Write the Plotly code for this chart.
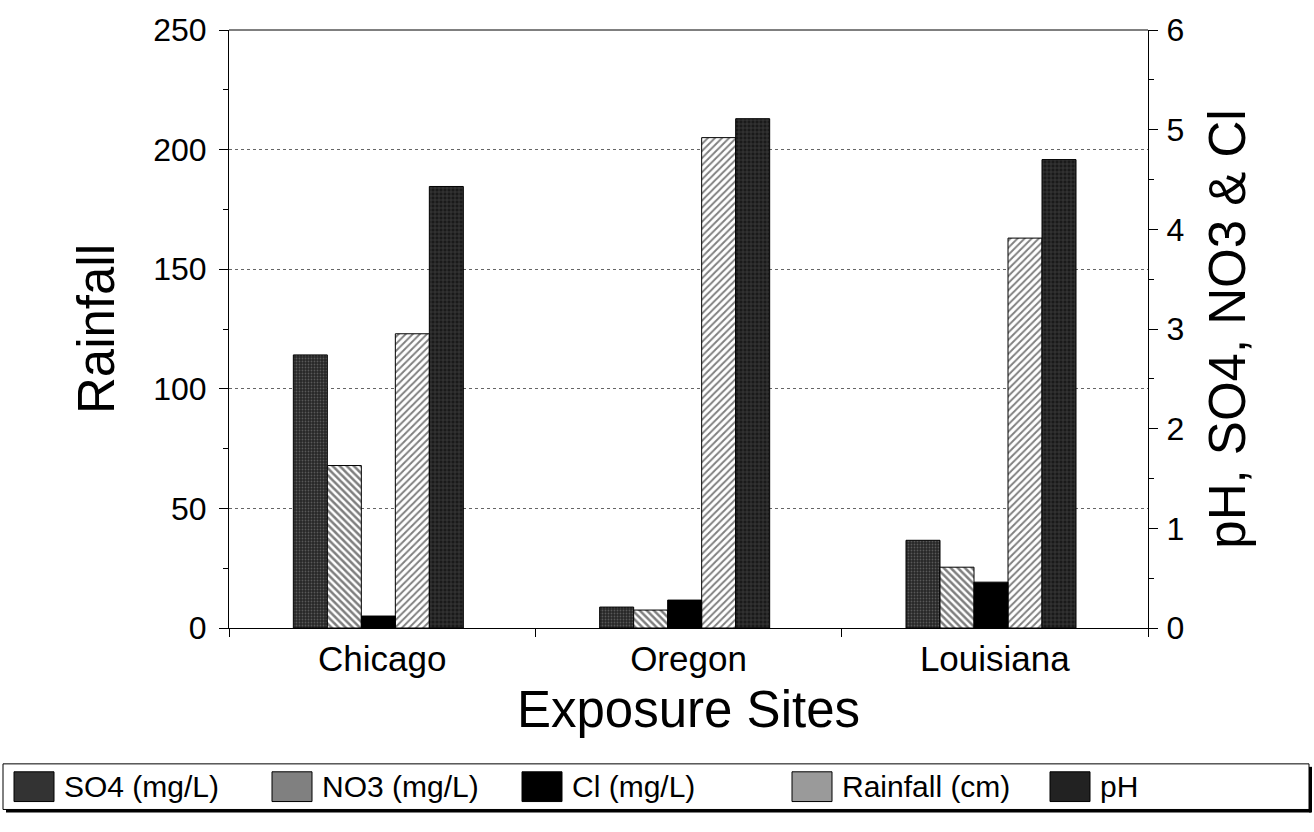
import plotly.graph_objects as go

# ---- data -------------------------------------------------------------
sites = ["Chicago", "Oregon", "Louisiana"]
so4_mg_l = [2.74, 0.21, 0.88]
no3_mg_l = [1.63, 0.18, 0.61]
cl_mg_l = [0.12, 0.28, 0.46]
rainfall_cm = [123, 205, 163]
ph_values = [4.43, 5.11, 4.70]

series_names = ["SO4 (mg/L)", "NO3 (mg/L)", "Cl (mg/L)", "Rainfall (cm)", "pH"]

left_ticks = [0, 50, 100, 150, 200, 250]
right_ticks = [0, 1, 2, 3, 4, 5, 6]

# ---- layout constants -------------------------------------------------
W, H = 1314, 832
ML, MR, MT, MB = 229, 166, 25, 204
PW, PH = W - ML - MR, H - MT - MB
FONT = "Liberation Sans, Arial, sans-serif"

BAR_W = 0.111
BAR_START = -0.29

styles = [
    dict(color="#333", pattern=dict(shape=".", fgcolor="#8a8a8a", bgcolor="#262626",
                                     size=3, solidity=0.3)),
    dict(color="#888", pattern=dict(shape="\\", fgcolor="#000", bgcolor="#fff",
                                     size=5, solidity=0.5)),
    dict(color="#000"),
    dict(color="#999", pattern=dict(shape="/", fgcolor="#000", bgcolor="#fff",
                                     size=5, solidity=0.38)),
    dict(color="#222", pattern=dict(shape="+", fgcolor="#6a6a6a", bgcolor="#1a1a1a",
                                     size=4, solidity=0.3)),
]
swatch_fill = ["#333333", "#808080", "#000000", "#9a9a9a", "#222222"]

values = [so4_mg_l, no3_mg_l, cl_mg_l, rainfall_cm, ph_values]
axes = ["y2", "y2", "y2", "y", "y2"]

fig = go.Figure()
for i, (name, vals, ax, st) in enumerate(zip(series_names, values, axes, styles)):
    fig.add_trace(go.Bar(
        x=sites, y=vals, name=name, yaxis=ax,
        width=BAR_W, offset=BAR_START + i * BAR_W,
        marker=dict(line=dict(color="black", width=1), **st),
        showlegend=False,
    ))

axis_font = dict(family=FONT, size=32, color="black")
title_font = dict(family=FONT, size=51, color="black")

fig.update_layout(
    width=W, height=H,
    margin=dict(l=ML, r=MR, t=MT, b=MB),
    paper_bgcolor="white", plot_bgcolor="white",
    barmode="overlay",
    font=dict(family=FONT, color="black"),
    xaxis=dict(
        type="category", range=[-0.5, 2.5],
        showline=True, linecolor="black", linewidth=1,
        ticks="outside", ticklen=8, tickcolor="black", tickson="boundaries",
        tickfont=dict(family=FONT, size=35, color="black"),
        title=dict(text="Exposure Sites", font=title_font, standoff=14),
        showgrid=False,
    ),
    yaxis=dict(
        range=[0, 250], tickvals=left_ticks,
        showline=True, linecolor="black", linewidth=1,
        ticks="outside", ticklen=9, tickcolor="black", ticklabelstandoff=6,
        minor=dict(dtick=25, ticks="outside", ticklen=5, tickcolor="black", showgrid=False),
        tickfont=axis_font,
        showgrid=True, gridcolor="#666", griddash="dot", gridwidth=1,
        zeroline=False,
        title=dict(text="Rainfall", font=title_font, standoff=22),
    ),
    yaxis2=dict(
        range=[0, 6], tickvals=right_ticks, overlaying="y", side="right", anchor="x",
        showline=True, linecolor="black", linewidth=1,
        ticks="outside", ticklen=9, tickcolor="black", ticklabelstandoff=2,
        minor=dict(dtick=0.5, ticks="outside", ticklen=5, tickcolor="black", showgrid=False),
        tickfont=axis_font,
        showgrid=False, zeroline=False,
        title=dict(text="pH, SO4, NO3 & Cl", font=title_font, standoff=26),
    ),
)

# frame line along the top of the plot area
fig.add_shape(type="line", xref="paper", yref="paper", x0=0, x1=1, y0=1, y1=1,
              line=dict(color="black", width=1))


def px_x(px):
    return (px - ML) / PW


def px_y(py):
    return (H - MB - py) / PH


# legend box with a drop shadow on the bottom and right edges
box_l, box_r, box_t, box_b = 3, 1309, 765, 811
fig.add_shape(type="rect", xref="paper", yref="paper",
              x0=px_x(box_l), x1=px_x(box_r), y0=px_y(box_b), y1=px_y(box_t),
              line=dict(color="black", width=1), fillcolor="white")
fig.add_shape(type="line", xref="paper", yref="paper",
              x0=px_x(box_l + 3), x1=px_x(box_r + 2), y0=px_y(box_b + 1.5), y1=px_y(box_b + 1.5),
              line=dict(color="black", width=3))
fig.add_shape(type="line", xref="paper", yref="paper",
              x0=px_x(box_r + 1.5), x1=px_x(box_r + 1.5), y0=px_y(box_b + 3), y1=px_y(box_t + 3),
              line=dict(color="black", width=3))

swatch_left = [14, 272, 522, 792, 1050]
sw_w, sw_h = 40, 30
row_mid = (box_t + box_b) / 2
for name, x0, fill in zip(series_names, swatch_left, swatch_fill):
    fig.add_shape(type="rect", xref="paper", yref="paper",
                  x0=px_x(x0), x1=px_x(x0 + sw_w),
                  y0=px_y(row_mid + sw_h / 2), y1=px_y(row_mid - sw_h / 2),
                  line=dict(color="black", width=1), fillcolor=fill)
    fig.add_annotation(xref="paper", yref="paper", x=px_x(x0 + sw_w + 8), y=px_y(row_mid),
                       text=name, showarrow=False, xanchor="left", yanchor="middle",
                       font=dict(family=FONT, size=30, color="black"))

fig.write_html("out.html")
